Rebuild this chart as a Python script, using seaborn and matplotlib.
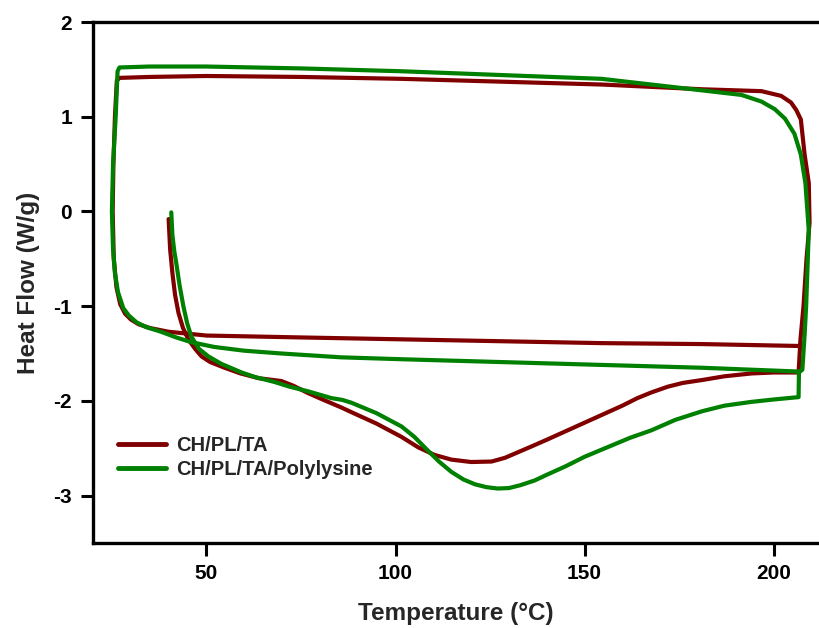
import seaborn as sns
import pandas as pd
from matplotlib import pyplot as plt

# CH/PL/TA : heat 1 -> cool -> heat 2 (path order)
temp_ta = [40.0, 40.4, 41.0, 41.7, 42.6, 43.8, 45.2, 47.0, 48.7, 51.0, 54.8, 59.0,
           63.8, 69.8, 73.0, 77.0, 81.0, 85.7, 88.4, 95.0, 101.6, 106.0, 110.3, 114.8,
           120.0, 125.4, 129.0, 132.5, 136.0, 140.0, 145.0, 150.0, 155.0, 160.0, 164.0,
           167.7, 172.0, 176.0, 181.0, 187.0, 194.2, 200.0, 206.6,
           207.1, 207.9, 208.7, 209.5, 209.3, 208.2, 207.2, 206.0, 204.6, 202.0, 196.8,
           181.0, 154.5, 128.0, 101.6, 75.0, 50.0, 35.0, 27.0, 26.3,
           25.8, 25.4, 25.2, 25.5, 26.2, 27.2, 28.5, 30.0, 32.0, 35.0, 40.0, 45.0,
           50.0, 75.0, 101.6, 128.0, 154.5, 181.0, 206.6]
flow_ta = [-0.08, -0.40, -0.65, -0.88, -1.07, -1.23, -1.35, -1.45, -1.53, -1.59, -1.65, -1.71,
           -1.76, -1.79, -1.84, -1.92, -1.99, -2.07, -2.12, -2.24, -2.38, -2.49, -2.57, -2.62,
           -2.645, -2.64, -2.60, -2.54, -2.48, -2.41, -2.32, -2.23, -2.14, -2.05, -1.97,
           -1.91, -1.85, -1.81, -1.78, -1.74, -1.71, -1.70, -1.70,
           -1.35, -1.0, -0.5, -0.12, 0.3, 0.6, 0.97, 1.07, 1.15, 1.22, 1.27,
           1.29, 1.34, 1.37, 1.40, 1.42, 1.43, 1.42, 1.41, 1.38,
           1.0, 0.5, 0.0, -0.5, -0.8, -0.98, -1.08, -1.14, -1.19, -1.23, -1.27, -1.29,
           -1.31, -1.33, -1.35, -1.37, -1.39, -1.40, -1.42]

# CH/PL/TA/Polylysine
temp_pl = [40.7, 41.0, 41.5, 42.0, 42.9, 43.9, 44.9, 46.0, 48.0, 50.5, 54.0, 59.3,
           63.0, 68.0, 72.0, 77.0, 83.0, 86.0, 88.4, 95.0, 101.6, 105.0, 108.7, 111.5,
           114.8, 118.0, 121.0, 124.0, 127.0, 130.0, 133.0, 136.8, 140.0, 145.0, 150.0,
           156.0, 162.0, 167.7, 174.0, 181.0, 187.0, 194.2, 200.0, 206.6,
           206.7, 207.6, 208.2, 208.6, 209.3, 208.4, 207.2, 205.5, 203.0, 200.3, 196.8,
           191.5, 172.0, 154.5, 128.0, 101.6, 75.0, 50.0, 35.0, 27.0, 26.5,
           26.0, 25.3, 25.0, 25.3, 25.8, 26.6, 28.0, 29.5, 31.5, 34.0, 38.0, 42.0, 46.0,
           52.0, 60.0, 70.0, 85.7, 101.6, 128.0, 154.5, 181.0, 206.6]
flow_pl = [-0.01, -0.25, -0.42, -0.54, -0.78, -1.0, -1.18, -1.32, -1.45, -1.53, -1.61, -1.70,
           -1.75, -1.80, -1.85, -1.90, -1.97, -1.99, -2.02, -2.13, -2.27, -2.38, -2.53, -2.64,
           -2.75, -2.83, -2.88, -2.91, -2.925, -2.92, -2.89, -2.84, -2.78, -2.69, -2.59,
           -2.49, -2.39, -2.31, -2.20, -2.11, -2.05, -2.01, -1.985, -1.96,
           -1.70, -1.67, -1.3, -1.0, -0.2, 0.3, 0.6, 0.82, 0.98, 1.08, 1.16,
           1.23, 1.32, 1.40, 1.44, 1.48, 1.51, 1.53, 1.53, 1.52, 1.48,
           1.0, 0.5, 0.0, -0.4, -0.65, -0.85, -1.02, -1.10, -1.17, -1.22, -1.27, -1.33, -1.38,
           -1.43, -1.47, -1.50, -1.54, -1.56, -1.59, -1.62, -1.65, -1.69]

labels = ["CH/PL/TA", "CH/PL/TA/Polylysine"]
colors = ["#800000", "#008000"]
x_ticks = [50, 100, 150, 200]
y_ticks = [-3, -2, -1, 0, 1, 2]

sns.set_style("ticks")
plt.rcParams['font.family'] = ['Liberation Sans', 'DejaVu Sans']
plt.rcParams['font.weight'] = 'bold'
plt.rcParams['axes.unicode_minus'] = False

fig = plt.figure(figsize=(8.19, 6.28), dpi=100)
ax = fig.add_axes([93 / 819, 85 / 628, 1 - 93 / 819, 521 / 628])

for t, f, lab, c in zip([temp_ta, temp_pl], [flow_ta, flow_pl], labels, colors):
    df = pd.DataFrame({"T": t, "HF": f})
    sns.lineplot(data=df, x="T", y="HF", sort=False, estimator=None, color=c,
                 linewidth=3, label=lab, ax=ax)

ax.set(xlim=(20, 212), ylim=(-3.5, 2))
ax.set_xticks(x_ticks)
ax.set_yticks(y_ticks)
ax.tick_params(direction='out', length=9, width=2.2, labelsize=15, pad=6, colors='black')
for s in ['left', 'bottom', 'top']:
    ax.spines[s].set_linewidth(2.4)
    ax.spines[s].set_color('black')
ax.spines['right'].set_visible(False)
ax.set_xlabel("Temperature (°C)", fontsize=17.5, fontweight='bold', labelpad=14)
ax.set_ylabel("Heat Flow (W/g)", fontsize=17.5, fontweight='bold', labelpad=10)

leg = ax.legend(loc='center left', bbox_to_anchor=(0.034, 0.164), frameon=False,
                fontsize=14.5, handlelength=2.4, handletextpad=0.5, labelspacing=0.25,
                borderpad=0, borderaxespad=0)
for line in leg.get_lines():
    line.set_linewidth(3.5)
for txt in leg.get_texts():
    txt.set_fontweight('bold')

fig.savefig("out.png", dpi=100)
